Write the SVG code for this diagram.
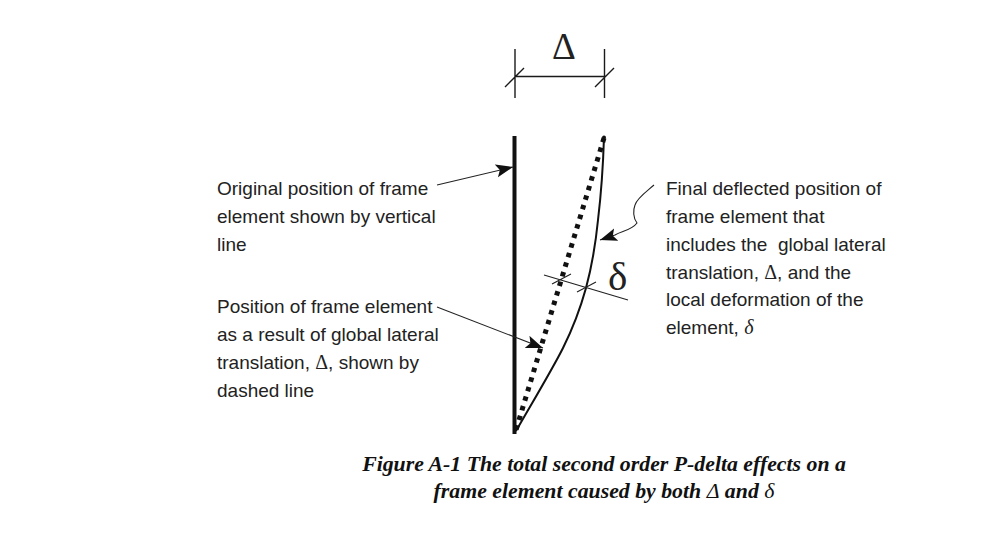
<svg xmlns="http://www.w3.org/2000/svg" width="1000" height="556" viewBox="0 0 1000 556">
<style>
.l{font-family:"Liberation Sans",Arial,sans-serif;font-size:19px;fill:#222}
.g{font-family:"Liberation Serif","Times New Roman",serif;font-size:20px}
.gi{font-family:"Liberation Serif","Times New Roman",serif;font-size:20px;font-style:italic}
.c{font-family:"Liberation Serif","Times New Roman",serif;font-size:21.800px;font-weight:bold;font-style:italic;fill:#111;text-anchor:middle}
.t{font-weight:normal}
.w{fill:none;stroke:#222;stroke-width:1.1}
.m{fill:none;stroke:#1a1a1a;stroke-width:1.4}
</style>
<defs>
<marker id="a" markerUnits="userSpaceOnUse" markerWidth="18" markerHeight="14" refX="17" refY="6.500" orient="auto">
<path d="M0 0L17 6.500L0 13L3.500 6.500Z" fill="#111"/>
</marker>
</defs>
<rect width="1000" height="556" fill="#fff"/>
<g id="dimension">
<path class="m" d="M515 49V98M604.500 49V98M515 76.500H604.500M505 87L524 68M595 87L614 68"/>
<text x="564" y="59" font-family="Liberation Serif,serif" font-size="37" fill="#222" text-anchor="middle">Δ</text>
</g>
<g id="original-position">
<path d="M514.500 136V434" fill="none" stroke="#111" stroke-width="4"/>
</g>
<g id="global-translation">
<path d="M604 138L516 430" fill="none" stroke="#111" stroke-width="5" stroke-dasharray="4.500 5.500"/>
</g>
<g id="final-position">
<path d="M604 137C603 170 601 195 598 220C596 240 593 262 586 288C581 306 572 330 563 348C553 368 535 398 516 431" fill="none" stroke="#111" stroke-width="2"/>
<circle cx="604" cy="137.500" r="2" fill="#111"/>
</g>
<g id="local-deformation">
<path class="w" d="M544 275L628 300M552 284L571 274M577 292L596 282"/>
<text x="608" y="289.500" font-family="Liberation Serif,serif" font-size="41" fill="#222">δ</text>
</g>
<g id="connectors">
<path class="w" d="M437 185L513 167" marker-end="url(#a)"/>
<path class="w" d="M437 307L543 348" marker-end="url(#a)"/>
<path class="w" d="M654 185C646 192 637 198 635 205C633 210 633 218 637 223C632 230 622 231 615 235L600 240" marker-end="url(#a)"/>
</g>
<g id="label-original">
<text class="l" x="217" y="195">Original position of frame</text>
<text class="l" x="217" y="223">element shown by vertical</text>
<text class="l" x="217" y="251">line</text>
</g>
<g id="label-translation">
<text class="l" x="217" y="313">Position of frame element</text>
<text class="l" x="217" y="341">as a result of global lateral</text>
<text class="l" x="217" y="369">translation, <tspan class="g">Δ</tspan>, shown by</text>
<text class="l" x="217" y="397">dashed line</text>
</g>
<g id="label-final">
<text class="l" x="666" y="195">Final deflected position of</text>
<text class="l" x="666" y="223">frame element that</text>
<text class="l" x="666" y="251" xml:space="preserve">includes the  global lateral</text>
<text class="l" x="666" y="279">translation, <tspan class="g">Δ</tspan>, and the</text>
<text class="l" x="666" y="306">local deformation of the</text>
<text class="l" x="666" y="334">element, <tspan class="gi">δ</tspan></text>
</g>
<g id="caption">
<text class="c" x="604" y="471">Figure A-1 The total second order P-delta effects on a</text>
<text class="c" x="604" y="498">frame element caused by both <tspan class="t">Δ</tspan> and <tspan class="t">δ</tspan></text>
</g>
</svg>
